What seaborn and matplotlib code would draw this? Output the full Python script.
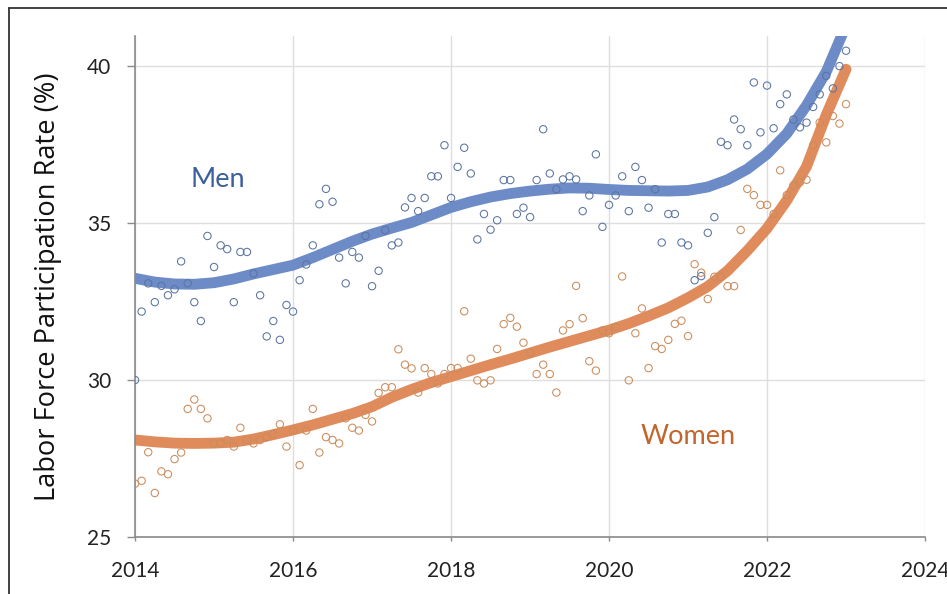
import numpy as np
import pandas as pd
import matplotlib
matplotlib.use("Agg")
import matplotlib.pyplot as plt
from matplotlib.lines import Line2D
import seaborn as sns

# Monthly labour force participation rate (%), Jan 2014 .. Jan 2023
men_rate = [
    30.00, 32.18, 33.08, 32.48, 33.00, 32.70, 32.89, 33.78, 33.08, 32.48, 31.88, 34.59,
    33.60, 34.29, 34.17, 32.48, 34.08, 34.08, 33.39, 32.70, 31.39, 31.88, 31.28, 32.39,
    32.18, 33.18, 33.68, 34.29, 35.60, 36.09, 35.68, 33.90, 33.08, 34.08, 33.90, 34.59,
    32.99, 33.48, 34.77, 34.29, 34.38, 35.50, 35.80, 35.38, 35.80, 36.49, 36.49, 37.48,
    35.80, 36.79, 37.40, 36.58, 34.48, 35.29, 34.79, 35.09, 36.37, 36.37, 35.29, 35.49,
    35.19, 36.37, 37.99, 36.58, 36.08, 36.39, 36.49, 36.39, 35.38, 35.88, 37.19, 34.88,
    35.58, 35.88, 36.49, 35.38, 36.79, 36.37, 35.49, 36.08, 34.38, 35.29, 35.29, 34.38,
    34.29, 33.18, 33.31, 34.69, 35.19, 37.59, 37.48, 38.30, 37.99, 37.48, 39.48, 37.89,
    39.38, 38.02, 38.79, 39.10, 38.30, 38.05, 38.20, 38.70, 39.10, 39.69, 39.29, 40.00,
    40.49,
]
women_rate = [
    26.70, 26.79, 27.70, 26.40, 27.09, 27.00, 27.48, 27.69, 29.08, 29.38, 29.08, 28.78,
    27.98, 27.98, 28.09, 27.88, 28.48, 28.09, 27.98, 28.09, 28.18, 28.28, 28.59, 27.88,
    28.39, 27.29, 28.39, 29.08, 27.69, 28.18, 28.09, 27.98, 28.78, 28.48, 28.39, 28.89,
    28.68, 29.59, 29.77, 29.77, 30.98, 30.49, 30.37, 29.60, 30.38, 30.19, 29.89, 30.19,
    30.38, 30.38, 32.19, 30.68, 29.99, 29.89, 29.99, 30.99, 31.78, 31.98, 31.70, 31.19,
    30.88, 30.19, 30.49, 30.19, 29.60, 31.58, 31.78, 33.00, 31.97, 30.60, 30.30, 31.58,
    31.49, 31.69, 33.30, 29.99, 31.49, 32.28, 30.38, 31.08, 30.99, 31.28, 31.79, 31.89,
    31.40, 33.69, 33.42, 32.58, 33.29, 33.29, 32.99, 32.99, 34.78, 36.09, 35.89, 35.58,
    35.58, 35.29, 36.68, 35.89, 36.20, 36.30, 36.38, 37.48, 38.20, 37.57, 38.41, 38.17,
    38.79,
]

# Smoothed trend, quarterly from 2014.00 to 2023.00
men_trend = [
    33.24, 33.12, 33.06, 33.05, 33.10, 33.22, 33.38, 33.52, 33.66, 33.90,
    34.16, 34.42, 34.65, 34.84, 35.02, 35.26, 35.50, 35.68, 35.83, 35.94,
    36.02, 36.08, 36.12, 36.11, 36.07, 36.04, 36.03, 36.02, 36.04, 36.15,
    36.38, 36.72, 37.20, 37.85, 38.75, 39.82, 41.30,
]
women_trend = [
    28.09, 28.03, 27.99, 27.98, 27.99, 28.02, 28.12, 28.26, 28.41, 28.57,
    28.75, 28.93, 29.15, 29.45, 29.70, 29.92, 30.11, 30.30, 30.49, 30.67,
    30.86, 31.05, 31.23, 31.41, 31.59, 31.80, 32.04, 32.30, 32.62, 32.98,
    33.48, 34.12, 34.83, 35.72, 36.80, 38.45, 39.90,
]

year_ticks = [2014, 2016, 2018, 2020, 2022, 2024]
rate_ticks = [25, 30, 35, 40]
series_names = ["Men", "Women"]

month_years = 2014 + np.arange(len(men_rate)) / 12.0
quarter_years = 2014 + np.arange(len(men_trend)) / 4.0

pts = pd.DataFrame({"year": np.concatenate([month_years, month_years]),
                    "rate": men_rate + women_rate,
                    "group": ["Men"] * len(men_rate) + ["Women"] * len(women_rate)})
trend = pd.DataFrame({"year": np.concatenate([quarter_years, quarter_years]),
                      "rate": men_trend + women_trend,
                      "group": ["Men"] * len(men_trend) + ["Women"] * len(women_trend)})

sns.set_theme(style="white")
plt.rcParams["font.family"] = ["Lato", "DejaVu Sans"]

line_col = {"Men": "#6d8cc7", "Women": "#e08b5c"}
dot_col = {"Men": "#5a73a2", "Women": "#cb8b5a"}
text_col = {"Men": "#3d5f9c", "Women": "#c2662d"}

fig = plt.figure(figsize=(9.47, 5.94), dpi=100)
ax = fig.add_axes([0.1426, 0.0960, 0.8342, 0.8434])

for g in series_names:
    sns.lineplot(data=trend[trend["group"] == g], x="year", y="rate", ax=ax,
                 color=line_col[g], lw=7.8, solid_capstyle="round",
                 solid_joinstyle="round", zorder=2, legend=False)
for g in series_names:
    sns.scatterplot(data=pts[pts["group"] == g], x="year", y="rate", ax=ax,
                    marker="o", s=28, facecolor="none", edgecolor=dot_col[g],
                    linewidth=0.75, zorder=3, legend=False)

ax.set_xlim(year_ticks[0], year_ticks[-1])
ax.set_ylim(25, 40.96)
ax.set_xticks(year_ticks, [str(y) for y in year_ticks])
ax.set_yticks(rate_ticks, [str(v) for v in rate_ticks])
ax.grid(True, color="#dedede", lw=1.0)
ax.set_axisbelow(True)
for side in ("top", "right"):
    ax.spines[side].set_visible(False)
for side in ("left", "bottom"):
    ax.spines[side].set_color("#8a8a8a")
    ax.spines[side].set_linewidth(1.2)
ax.tick_params(axis="y", which="major", left=True, length=6, width=1.0,
               color="#8a8a8a", labelsize=15, pad=11, labelcolor="#222222")
ax.tick_params(axis="x", which="major", bottom=True, length=3, width=1.0,
               color="#8a8a8a", labelsize=15, pad=14, labelcolor="#222222")
ax.set_xlabel("")
ax.set_ylabel("Labor Force Participation Rate (%)", fontsize=19.6,
              family=["Open Sans", "DejaVu Sans"], color="#111111", labelpad=18)

ax.text(0.105, 0.713, "Men", transform=ax.transAxes, fontsize=19.5,
        color=text_col["Men"], ha="center", va="center")
ax.text(0.70, 0.20, "Women", transform=ax.transAxes, fontsize=19.5,
        color=text_col["Women"], ha="center", va="center")

# outer frame (top and left edges)
fig.add_artist(Line2D([9 / 947, 1.0], [1 - 7.5 / 594, 1 - 7.5 / 594],
                      transform=fig.transFigure, color="#333333", lw=1.3))
fig.add_artist(Line2D([9 / 947, 9 / 947], [0.0, 1 - 7.5 / 594],
                      transform=fig.transFigure, color="#333333", lw=1.3))

fig.savefig("out.png", dpi=100)
